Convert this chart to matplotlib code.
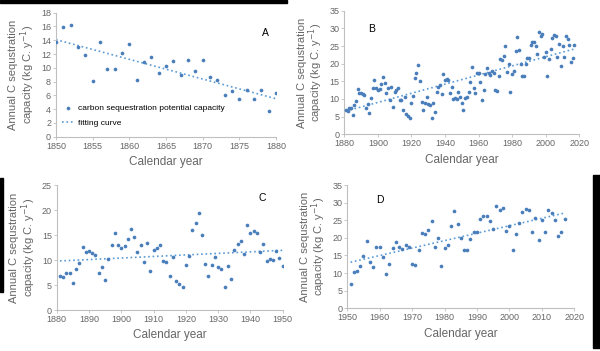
import numpy as np
import matplotlib
matplotlib.use("Agg")
import matplotlib.pyplot as plt
from matplotlib.patches import Rectangle

plt.rcParams['font.family'] = ['Liberation Sans', 'DejaVu Sans']

# data
years_a = np.arange(1850, 1881)
vals_a = [13.7, 15.9, 16.2, 13.0, 11.8, 8.1, 13.7, 9.9, 9.9, 12.2, 13.4,
          8.2, 10.8, 11.6, 9.3, 10.3, 11.0, 8.9, 11.1, 9.5, 11.1,
          8.6, 8.2, 6.1, 6.7, 5.5, 6.8, 5.5, 6.8, 3.7, 6.4]

years_c = np.arange(1881, 1951)
vals_c = [6.9, 6.7, 7.5, 7.5, 5.5, 8.2, 9.4, 12.7, 11.6, 11.8,
          11.4, 11.0, 7.4, 8.6, 6.0, 10.2, 13.1, 15.5, 13.1, 12.5,
          12.9, 14.3, 16.2, 14.6, 11.7, 13.1, 9.7, 13.5, 7.8, 12.1,
          12.5, 13.0, 9.8, 9.7, 6.8, 10.6, 5.8, 5.2, 4.6, 9.0,
          10.9, 16.0, 17.4, 19.5, 15.0, 9.2, 6.8, 9.0, 10.6, 8.6,
          8.3, 4.7, 8.8, 6.2, 12.1, 13.3, 13.9, 11.3, 17.1, 15.5,
          15.8, 15.5, 11.7, 13.3, 9.9, 10.2, 10.1, 11.9, 10.5, 8.8]

years_d = np.arange(1951, 2018)
vals_d = [7.0, 10.2, 10.5, 11.9, 14.8, 19.0, 13.2, 11.8, 17.4, 17.4,
          14.7, 9.7, 12.5, 17.2, 18.7, 17.3, 16.7, 17.9, 17.4, 12.5,
          12.2, 16.5, 21.4, 21.0, 22.2, 24.9, 17.5, 20.0, 11.9, 17.0,
          17.9, 23.5, 27.6, 23.8, 20.0, 16.6, 16.6, 19.8, 21.6, 21.7,
          25.3, 26.1, 26.1, 24.9, 22.6, 29.0, 27.8, 28.5, 22.0, 23.3,
          16.5, 21.2, 24.2, 27.3, 28.2, 27.9, 21.8, 25.7, 19.4, 25.0,
          21.8, 27.8, 27.0, 25.2, 20.6, 21.6, 25.4]

# panel B is the whole record 1881-2017
years_b = np.concatenate([years_c, years_d])
vals_b = vals_c + vals_d

dot_col = '#4a7ebb'
line_col = '#5b9bd5'
grey = '#666666'
ylab = 'Annual C sequstration\ncapacity (kg C. y$^{-1}$)'

fig = plt.figure(figsize=(6.0, 3.51), dpi=100)


def panel(rect, x, y, xlim, xticks, ylim, yticks, tag, tag_xy, legend=False):
    ax = fig.add_axes(rect)
    ax.scatter(x, y, s=7, color=dot_col, zorder=3, linewidths=0,
               label='carbon sequestration potential capacity')
    k, b = np.polyfit(x, y, 1)
    xx = np.array([x[0], x[-1]])
    ax.plot(xx, k * xx + b, ls=':', lw=1.2, color=line_col, label='fitting curve')
    ax.set_xlim(xlim)
    ax.set_ylim(ylim)
    ax.set_xticks(xticks)
    ax.set_yticks(yticks)
    for s in ['top', 'right']:
        ax.spines[s].set_visible(False)
    for s in ['left', 'bottom']:
        ax.spines[s].set_color('#bfbfbf')
        ax.spines[s].set_linewidth(0.8)
    ax.tick_params(labelsize=6.5, colors=grey, length=2, width=0.6, pad=1.5)
    ax.tick_params(color='#bfbfbf')
    ax.set_xlabel('Calendar year', fontsize=8.5, color=grey, labelpad=4)
    ax.set_ylabel(ylab, fontsize=8, color=grey, labelpad=3, linespacing=1.0)
    ax.text(tag_xy[0], tag_xy[1], tag, transform=ax.transAxes, fontsize=7.5,
            ha='center', va='center', color='black')
    if legend:
        ax.legend(loc='lower left', bbox_to_anchor=(0.0, 0.03), frameon=False,
                  fontsize=6, handlelength=1.6, handletextpad=0.4,
                  labelspacing=0.9, borderpad=0.2)
    return ax


panel([0.0933, 0.6105, 0.3667, 0.3533], years_a, vals_a, (1850, 1880),
      range(1850, 1881, 5), (0, 18), range(0, 19, 2), 'A', (0.95, 0.84), legend=True)
panel([0.5738, 0.6174, 0.3917, 0.3521], years_b, vals_b, (1880, 2020),
      range(1880, 2021, 20), (0, 35), range(0, 36, 5), 'B', (0.115, 0.85))
panel([0.0945, 0.1168, 0.3767, 0.3561], years_c, vals_c, (1880, 1950),
      range(1880, 1951, 10), (0, 25), range(0, 26, 5), 'C', (0.91, 0.90))
panel([0.5788, 0.1217, 0.3783, 0.3512], years_d, vals_d, (1950, 2020),
      range(1950, 2021, 10), (0, 35), range(0, 36, 5), 'D', (0.145, 0.88))

# black scan edges seen in the reference
fig.patches.append(Rectangle((0, 1 - 3 / 351), 287 / 600, 3 / 351,
                             transform=fig.transFigure, color='black', zorder=0))
fig.patches.append(Rectangle((0, 1 - 292 / 351), 3 / 600, 114 / 351,
                             transform=fig.transFigure, color='black', zorder=0))
fig.patches.append(Rectangle((593 / 600, 1 - 348 / 351), 7 / 600, 173 / 351,
                             transform=fig.transFigure, color='black', zorder=0))

fig.savefig('out.png', dpi=100)
